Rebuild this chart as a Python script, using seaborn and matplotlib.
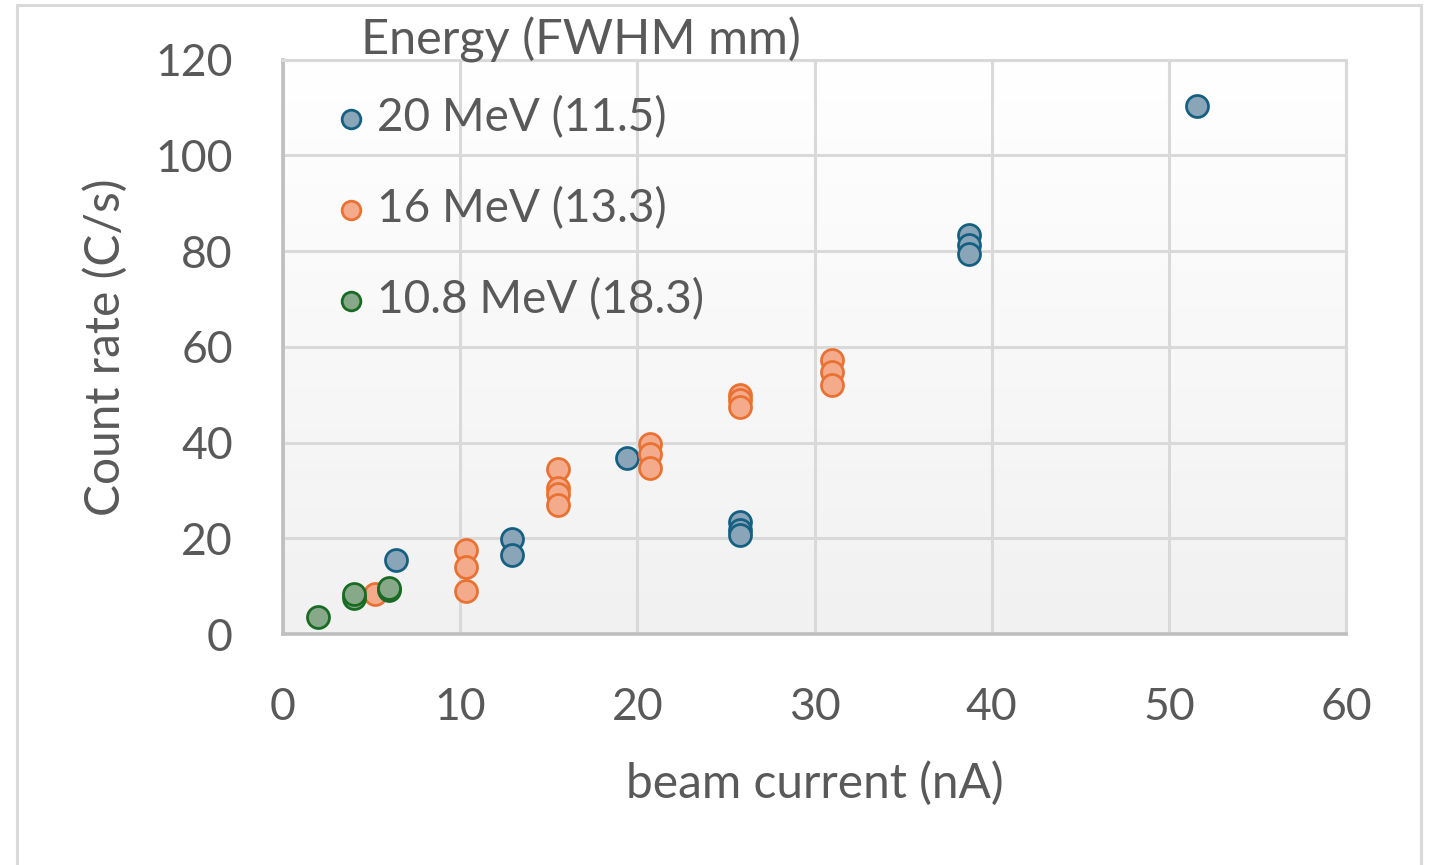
import numpy as np
import pandas as pd
import matplotlib
matplotlib.use("Agg")
import matplotlib.pyplot as plt
from matplotlib.patches import Rectangle
import seaborn as sns

# Valores
x_20mev = [6.4, 12.9, 12.9, 19.4, 25.8, 25.8, 25.8, 38.7, 38.7, 38.7, 51.6]
y_20mev = [15.5, 19.9, 16.5, 36.8, 23.4, 21.7, 20.6, 83.4, 81.3, 79.3, 110.4]

x_16mev = [5.2, 10.35, 10.35, 10.35, 15.5, 15.5, 15.5, 15.5,
           20.7, 20.7, 20.7, 25.8, 25.8, 25.8, 31.0, 31.0, 31.0]
y_16mev = [8.3, 17.6, 14.0, 9.0, 34.4, 30.5, 29.3, 27.0,
           39.8, 37.7, 34.6, 50.0, 48.8, 47.4, 57.2, 54.8, 52.1]

x_108mev = [2.0, 4.0, 4.0, 6.0, 6.0]
y_108mev = [3.5, 7.5, 8.4, 9.2, 9.6]

series_labels = ["20 MeV (11.5)", "16 MeV (13.3)", "10.8 MeV (18.3)"]
legend_title = "Energy (FWHM mm)"
x_ticks = [0, 10, 20, 30, 40, 50, 60]
y_ticks = [0, 20, 40, 60, 80, 100, 120]

sns.set_theme(style="white")
plt.rcParams["font.family"] = ["Lato", "DejaVu Sans"]

TXT = "#595959"
GRID = "#d9d9d9"
edge_cols = ["#156082", "#e97132", "#196b24"]
face_cols = ["#8aa5b8", "#f4ab8c", "#87a98a"]

fig = plt.figure(figsize=(14.29, 8.65), dpi=100)
ax = fig.add_axes([0.198, 0.267, 0.744, 0.664])

# fundo em degradê (branco em cima -> cinza claro embaixo)
grad = np.linspace(0, 1, 256).reshape(-1, 1)
ax.imshow(grad, extent=[0, 1, 0, 1], transform=ax.transAxes, aspect="auto",
          cmap=matplotlib.colors.LinearSegmentedColormap.from_list("bg", ["#ffffff", "#f1f1f1"]),
          vmin=0, vmax=1, zorder=0)

datasets = [(x_20mev, y_20mev), (x_16mev, y_16mev), (x_108mev, y_108mev)]
for (xs, ys), lab, ec, fc in zip(datasets, series_labels, edge_cols, face_cols):
    df = pd.DataFrame({"x": xs, "y": ys})
    sns.scatterplot(data=df, x="x", y="y", ax=ax, s=250, color=fc,
                    edgecolor=ec, linewidth=2.0, label=lab, zorder=3)

ax.set_xlim(0, 60)
ax.set_ylim(0, 120)
ax.set_xticks(x_ticks)
ax.set_yticks(y_ticks)
ax.grid(True, color=GRID, linewidth=2.2, zorder=1)
ax.set_axisbelow(True)

for side in ["top", "right"]:
    ax.spines[side].set_color(GRID)
    ax.spines[side].set_linewidth(2.2)
for side in ["left", "bottom"]:
    ax.spines[side].set_color("#bfbfbf")
    ax.spines[side].set_linewidth(2.6)

ax.tick_params(axis="both", length=0, labelsize=32, labelcolor=TXT)
ax.tick_params(axis="y", pad=36)
ax.tick_params(axis="x", pad=38)

ax.set_xlabel("beam current (nA)", fontsize=34.5, color=TXT, labelpad=24)
ax.set_ylabel("Count rate (C/s)", fontsize=34.5, color=TXT, labelpad=20)

leg = ax.legend(loc="upper left", bbox_to_anchor=(0.027, 0.968),
                frameon=False, fontsize=33, labelspacing=1.04,
                handletextpad=0.13, handlelength=0.9,
                markerscale=0.85, borderaxespad=0)
for t in leg.get_texts():
    t.set_color(TXT)

# título da legenda
ax.text(0.073, 1.035, legend_title, transform=ax.transAxes, fontsize=35,
        color=TXT, ha="left", va="center")

# moldura externa da área do gráfico
fig.patches.append(Rectangle((17 / 1429, -0.02), (1421 - 17) / 1429, 1.02 - 5 / 865,
                             transform=fig.transFigure, fill=False,
                             edgecolor=GRID, linewidth=2.2))

fig.savefig("out.png", dpi=100)
